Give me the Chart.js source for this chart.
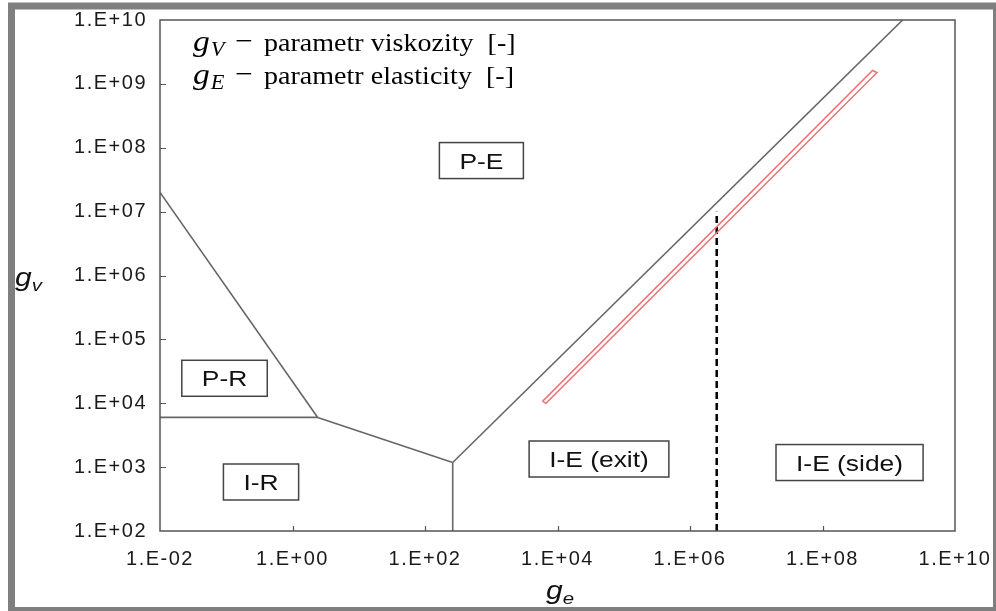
<!DOCTYPE html>
<html>
<head>
<meta charset="utf-8">
<script src="https://cdn.jsdelivr.net/npm/chart.js@4.4.1/dist/chart.umd.min.js"></script>
<style>
  html, body { margin: 0; padding: 0; background: #ffffff; }
  #wrap { width: 996px; height: 611px; position: relative; }
</style>
</head>
<body>
<div id="wrap"><canvas id="c" width="996" height="611"></canvas></div>
<script>
// Axis ticks (log scales)
const xTickValues = [1e-2, 1e0, 1e2, 1e4, 1e6, 1e8, 1e10];
const xTickLabels = ['1.E-02', '1.E+00', '1.E+02', '1.E+04', '1.E+06', '1.E+08', '1.E+10'];
const yTickValues = [1e2, 1e3, 1e4, 1e5, 1e6, 1e7, 1e8, 1e9, 1e10];
const yTickLabels = ['1.E+02', '1.E+03', '1.E+04', '1.E+05', '1.E+06', '1.E+07', '1.E+08', '1.E+09', '1.E+10'];

// Regime boundaries in the (g_e, g_v) plane
const boundaryPE_PR = [{ x: 1e-2, y: 2.0e7 }, { x: 2.4, y: 6.0e3 }];
const boundaryPR_IR = [{ x: 1e-2, y: 6.0e3 }, { x: 2.4, y: 6.0e3 }];
const boundaryR_E   = [{ x: 2.4, y: 6.0e3 }, { x: 262, y: 1.18e3 }];
const boundaryIR_IE = [{ x: 262, y: 1.18e3 }, { x: 262, y: 1e2 }];
const boundaryPE_IE = [{ x: 262, y: 1.18e3 }, { x: 1.62e9, y: 1e10 }];

// Operating window (closed outline)
const processWindow = [
  { x: 5.94e3, y: 1.07e4 },
  { x: 5.69e8, y: 1.62e9 },
  { x: 6.65e8, y: 1.51e9 },
  { x: 6.70e3, y: 9.96e3 },
  { x: 5.94e3, y: 1.07e4 }
];

// Exit / side transition
const exitSideLimit = [{ x: 2.53e6, y: 1e2 }, { x: 2.53e6, y: 1e7 }];

// Regime names
const regionNames = ['P-E', 'P-R', 'I-R', 'I-E (exit)', 'I-E (side)'];
const regionGe = [710, 0.0942, 0.335, 4.23e4, 2.56e8];
const regionGv = [6.3e7, 2.46e4, 585, 1340, 1180];

const STRETCH = 1.2;

function stretchedText(ctx, text, x, y, font, align, color, k) {
  const s = k || STRETCH;
  ctx.save();
  ctx.translate(x, y);
  ctx.scale(s, 1);
  ctx.font = font;
  ctx.textAlign = align || 'left';
  ctx.textBaseline = 'alphabetic';
  ctx.fillStyle = color || '#111';
  ctx.fillText(text, 0, 0);
  const w = ctx.measureText(text).width * s;
  ctx.restore();
  return w;
}

const decorations = {
  id: 'decorations',
  beforeDraw(chart) {
    const ctx = chart.ctx;
    ctx.save();
    ctx.fillStyle = '#ffffff';
    ctx.fillRect(0, 0, chart.width, chart.height);
    ctx.restore();
    ctx.letterSpacing = '1.5px';
  },
  afterDraw(chart) {
    const ctx = chart.ctx;
    ctx.letterSpacing = '0px';
    const a = chart.chartArea;
    const xs = chart.scales.x, ys = chart.scales.y;

    // plot frame
    ctx.save();
    ctx.strokeStyle = '#555555';
    ctx.lineWidth = 1.5;
    ctx.strokeRect(a.left, a.top, a.right - a.left, a.bottom - a.top);

    // inward tick marks
    ctx.lineWidth = 1.2;
    ctx.beginPath();
    yTickValues.slice(1, -1).forEach(v => {
      const py = Math.round(ys.getPixelForValue(v)) + 0.5;
      ctx.moveTo(a.left, py); ctx.lineTo(a.left + 6, py);
    });
    xTickValues.slice(1, -1).forEach(v => {
      const px = Math.round(xs.getPixelForValue(v)) + 0.5;
      ctx.moveTo(px, a.bottom); ctx.lineTo(px, a.bottom - 5);
    });
    ctx.stroke();
    ctx.restore();

    // regime labels in boxes
    regionNames.forEach((name, i) => {
      const cx = xs.getPixelForValue(regionGe[i]);
      const cy = ys.getPixelForValue(regionGv[i]);
      ctx.save();
      ctx.font = '22px "Liberation Sans", Arial, sans-serif';
      const tw = ctx.measureText(name).width * STRETCH;
      const w = tw + 40, h = 36;
      ctx.fillStyle = '#ffffff';
      ctx.fillRect(cx - w / 2, cy - h / 2, w, h);
      ctx.strokeStyle = '#444444';
      ctx.lineWidth = 1.5;
      ctx.strokeRect(cx - w / 2, cy - h / 2, w, h);
      ctx.restore();
      stretchedText(ctx, name, cx, cy + 8, '22px "Liberation Sans", Arial, sans-serif', 'center', '#111');
    });

    // parameter legend
    const serif = '"Liberation Serif", "Times New Roman", serif';
    const rows = [['V', 'parametr viskozity  [-]', 51], ['E', 'parametr elasticity  [-]', 84]];
    rows.forEach(r => {
      const base = r[2];
      let x = 193;
      x += stretchedText(ctx, 'g', x, base, 'italic 30px ' + serif, 'left', '#000', 1.12);
      stretchedText(ctx, r[0], x + 1, base + 5, 'italic 20px ' + serif, 'left', '#000', 1.12);
      stretchedText(ctx, '\u2212', 244, base - 1, '28px ' + serif, 'center', '#000', 1.12);
      stretchedText(ctx, r[1], 264, base, '25.5px ' + serif, 'left', '#000', 1.1);
    });

    // axis titles
    const sans = '"Liberation Sans", Arial, sans-serif';
    let w = stretchedText(ctx, 'g', 15, 286, 'italic 25px ' + sans, 'left', '#111');
    stretchedText(ctx, 'v', 15 + w, 291, 'italic 17px ' + sans, 'left', '#111');
    w = stretchedText(ctx, 'g', 546, 599, 'italic 25px ' + sans, 'left', '#111');
    stretchedText(ctx, 'e', 546 + w, 604, 'italic 17px ' + sans, 'left', '#111');

    // outer gray frame
    ctx.save();
    ctx.strokeStyle = '#7f7f7f';
    ctx.lineWidth = 7;
    ctx.strokeRect(11.5, 6, 985, 604.5);
    ctx.restore();
  }
};

const grayLine = (data) => ({
  data, showLine: true, borderColor: '#666666', borderWidth: 1.6,
  pointRadius: 0, fill: false, tension: 0
});

const tickFont = { family: '"Liberation Sans", Arial, sans-serif', size: 20 };

new Chart(document.getElementById('c'), {
  type: 'scatter',
  data: {
    datasets: [
      grayLine(boundaryPE_PR),
      grayLine(boundaryPR_IR),
      grayLine(boundaryR_E),
      grayLine(boundaryIR_IE),
      grayLine(boundaryPE_IE),
      {
        data: processWindow, showLine: true, borderColor: '#ee7474', borderWidth: 1.5,
        pointRadius: 0, fill: false, tension: 0
      },
      {
        data: exitSideLimit, showLine: true, borderColor: '#000000', borderWidth: 2.5,
        borderDash: [7, 4], pointRadius: 0, fill: false
      }
    ]
  },
  options: {
    responsive: false,
    animation: false,
    events: [],
    layout: { padding: { left: 0, right: 41, top: 20, bottom: 0 } },
    plugins: { legend: { display: false }, tooltip: { enabled: false } },
    scales: {
      x: {
        type: 'logarithmic', min: 1e-2, max: 1e10,
        afterBuildTicks: s => { s.ticks = xTickValues.map(v => ({ value: v })); },
        afterFit: s => { s.height = 80; s.paddingLeft = 0; s.paddingRight = 0; },
        grid: { display: false, drawTicks: false },
        border: { display: false },
        ticks: {
          autoSkip: false, maxRotation: 0, minRotation: 0, padding: 16,
          color: '#1a1a1a', font: tickFont,
          callback: (v) => xTickLabels[xTickValues.findIndex(t => Math.abs(Math.log10(t) - Math.log10(v)) < 1e-6)]
        }
      },
      y: {
        type: 'logarithmic', min: 1e2, max: 1e10,
        afterBuildTicks: s => { s.ticks = yTickValues.map(v => ({ value: v })); },
        afterFit: s => { s.width = 160; s.paddingTop = 0; s.paddingBottom = 0; },
        grid: { display: false, drawTicks: false },
        border: { display: false },
        ticks: {
          autoSkip: false, padding: 13,
          color: '#1a1a1a', font: tickFont,
          callback: (v) => yTickLabels[yTickValues.findIndex(t => Math.abs(Math.log10(t) - Math.log10(v)) < 1e-6)]
        }
      }
    }
  },
  plugins: [decorations]
});
</script>
</body>
</html>
